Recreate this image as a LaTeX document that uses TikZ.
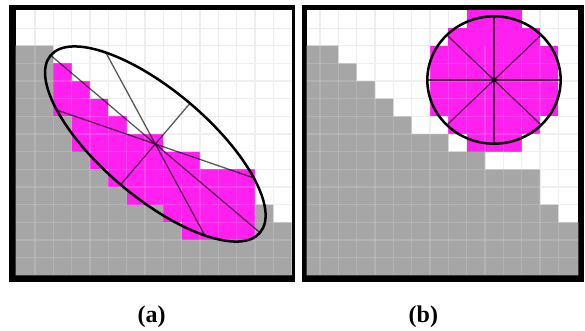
\documentclass[tikz,border=0pt]{standalone}
\usepackage{fontspec}
\setmainfont{Liberation Serif}
\definecolor{cellgray}{HTML}{A6A6A6}
\definecolor{cellmag}{HTML}{FF20F0}
\definecolor{gridline}{HTML}{EDEDED}
\tikzset{
  spoke/.style={black,opacity=.65,line width=1.3pt},
  rim/.style={black,line width=2.5pt},
  gridover/.style={white,opacity=.14,line width=1.2pt},
  gridbase/.style={gridline,line width=1.3pt},
  sublabel/.style={font=\bfseries\fontsize{24}{26}\selectfont,inner sep=0pt}
}
% panel: #1 outer left, #2 outer right, #3 inner left, #4 inner right
\newcommand{\panelbase}[4]{%
  \fill[black] (#1,14) rectangle (#2,845);
  \fill[white] (#3,30) rectangle (#4,826);
  \foreach \gx in {105,160,...,820} \draw[gridbase] (\gx,30) -- (\gx,826);
  \foreach \gy in {85,137,190,243,296,349,402,455,508,561,614,667,720,773} \draw[gridbase] (#3,\gy) -- (#4,\gy);
  \fill[cellgray] (#3,826) -- (#3,137) -- (160,137) -- (160,190) -- (215,190) -- (215,243) -- (270,243) -- (270,296) -- (325,296) -- (325,349) -- (380,349) -- (380,402) -- (490,402) -- (490,455) -- (600,455) -- (600,508) -- (765,508) -- (765,614) -- (820,614) -- (820,667) -- (#4,667) -- (#4,826) -- cycle;
}
\newcommand{\panelgrid}[2]{%
  \foreach \gx in {105,160,...,820} \draw[gridover] (\gx,137) -- (\gx,826);
  \foreach \gy in {190,243,296,349,402,455,508,561,614,667,720,773} \draw[gridover] (#1,\gy) -- (#2,\gy);
}
\begin{document}
\begin{tikzpicture}[x=0.33333pt,y=-0.33333pt]
\useasboundingbox (0,0) rectangle (1755,993);
% panel (a)
\panelbase{28}{885}{47}{875}
\fill[cellmag] (160,190) rectangle (215,349);
\fill[cellmag] (215,243) rectangle (270,455);
\fill[cellmag] (270,296) rectangle (325,508);
\fill[cellmag] (325,349) rectangle (380,561);
\fill[cellmag] (380,402) rectangle (490,614);
\fill[cellmag] (490,455) rectangle (545,667);
\fill[cellmag] (545,455) rectangle (600,720);
\fill[cellmag] (600,508) rectangle (765,720);
\panelgrid{47}{875}
\begin{scope}[cm={314,-266,104,122,(466,432)},x=0.33333pt,y=0.33333pt]
  \foreach \t in {0,45,...,315} \draw[spoke] (0,0) -- (\t:1);
  \draw[rim] (0,0) circle[radius=1];
\end{scope}
% panel (b)
\begin{scope}[shift={(855,0)}]
\panelbase{52}{896}{65}{880}
\fill[cellmag] (545,31) rectangle (710,455);
\fill[cellmag] (490,85) rectangle (765,402);
\fill[cellmag] (435,137) rectangle (820,349);
\panelgrid{65}{880}
\begin{scope}[cm={200,0,0,191,(627,240)},x=0.33333pt,y=0.33333pt]
  \foreach \t in {0,45,...,315} \draw[spoke] (0,0) -- (\t:1);
  \draw[rim] (0,0) circle[radius=1];
\end{scope}
\fill[black] (627,240) circle[radius=7];
\end{scope}
\node[sublabel] (la) at (455,950) {(a)};
\node[sublabel] (lb) at (1270,950) {(b)};
\end{tikzpicture}
\end{document}
